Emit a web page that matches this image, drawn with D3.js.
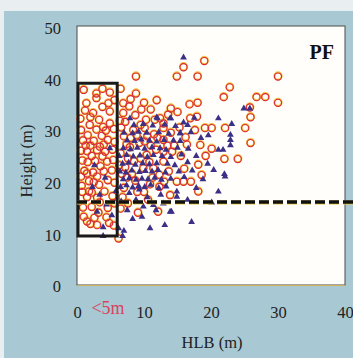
<!DOCTYPE html>
<html><head><meta charset="utf-8">
<script src="https://cdn.jsdelivr.net/npm/d3@7"></script>
<style>html,body{margin:0;padding:0;background:#fff;}svg{display:block}</style>
</head><body>
<script>
const xTicks = [0, 10, 20, 30, 40];
const yTicks = [0, 10, 20, 30, 40, 50];
const xLabel = "HLB (m)";
const yLabel = "Height (m)";
const panelLabel = "PF";
const boxNote = "<5m";
const boxRange = {x0: 0, x1: 6, y0: 9.5, y1: 39.1};
const threshold = 16.1;

const circles = [
 // inside box (HLB < 5 m)
 [2.9,37.1],[4.9,37.3],[2.9,36.2],[1.4,35.2],[4.7,35.2],[2.4,33.3],[4.9,33.6],[3.3,32.0],[1.9,31.0],[4.9,31.3],
 [0.6,30.0],[2.9,30.1],[4.3,29.9],[5.5,30.2],[1.6,29.0],[3.7,28.9],[0.9,28.0],[2.5,27.9],[4.6,28.1],[5.6,27.7],
 [2.0,27.0],[3.4,26.8],[0.6,26.0],[1.5,25.9],[3.0,26.1],[4.2,25.8],[5.3,26.2],[2.2,25.0],[3.8,24.9],[0.8,24.1],
 [1.6,23.8],[2.7,24.0],[4.5,23.9],[5.4,24.2],[3.5,23.0],[1.1,22.1],[2.4,21.8],[4.0,22.0],[5.2,22.2],[0.6,21.0],
 [1.5,21.6],[3.0,21.0],[1.8,20.1],[2.5,19.9],[4.6,20.3],[5.6,19.8],[3.3,19.4],[0.8,18.0],[1.8,18.1],[2.2,17.9],
 [4.1,18.1],[1.5,17.0],[3.0,16.9],[5.3,17.2],[3.4,16.0],[0.9,15.0],[2.2,15.1],[4.6,14.9],[3.2,14.0],[1.0,13.2],
 [1.5,12.3],[2.6,13.0],[4.4,13.1],[3.0,11.6],[4.8,12.0],[6.2,9.0],[1.2,33.8],[5.6,35.8],[3.8,34.5],[0.5,32.2],
 [1.0,37.8],[3.8,38.0],[0.7,19.2],[5.6,15.8],[2.0,11.8],[5.5,11.5],[3.9,30.6],[1.3,27.0],[4.0,27.2],[2.0,32.5],
 // outside the box
 [6.5,14.8],[12.1,14.2],[9.1,14.0],[13.9,17.4],[10.6,16.5],[18.1,18.1],
 [7.0,18.8],[8.7,20.2],[10.9,19.5],[12.3,21.3],[14.9,20.0],[15.9,20.0],[17.0,20.0],[18.6,21.3],[9.9,22.6],[11.4,22.6],
 [7.2,22.8],[8.5,24.0],[12.9,23.9],[18.1,23.3],[22.0,24.4],[24.0,24.4],[16.0,22.5],
 [6.5,25.5],[7.9,26.7],[10.4,25.2],[12.9,25.8],[9.3,27.5],[10.1,27.8],[12.9,28.1],[14.5,27.0],[18.4,27.1],[20.1,26.4],
 [16.2,28.6],[7.0,28.8],[11.5,29.2],[25.9,27.5],[19.2,25.0],
 [10.1,30.4],[12.9,30.4],[17.6,30.0],[19.1,30.4],[20.1,30.4],[22.1,30.4],[25.1,30.4],[7.2,31.6],[11.6,32.0],[12.9,31.3],
 [12.4,32.3],[8.7,32.9],[6.9,33.3],[16.9,32.3],[17.9,32.6],[25.9,32.5],[14.0,34.2],[6.9,35.2],[10.0,35.3],[18.0,35.3],
 [25.8,34.4],[15.0,33.5],[8.4,30.0],[9.6,34.0],[6.6,30.5],[8.0,28.5],[11.0,27.0],[14.0,29.5],[15.5,25.0],[13.7,22.0],
 [8.8,37.1],[8.8,40.4],[14.9,40.4],[15.9,42.2],[19.0,43.4],[18.0,40.4],[30.0,40.4],[22.8,38.3],[21.9,36.4],[26.8,36.4],
 [28.1,36.4],[30.0,35.3],[7.5,20.8],[6.3,23.2],[10.0,18.0],
 [6.8,17.0],[7.6,15.8],[8.2,21.5],[9.5,24.5],[10.8,23.8],[11.8,26.2],[7.4,27.3],[8.9,29.0],[10.3,32.0],[11.0,34.0],
 [12.0,28.5],[13.5,27.0],[6.4,31.8],[7.8,34.6],[9.5,31.0],[11.3,20.8],[13.0,20.0],[14.2,25.8],[15.3,30.5],[16.4,27.2],
 [7.6,24.5],[9.0,18.0],[12.3,19.0],[6.7,21.5],[10.5,28.8],[13.6,33.0],[8.0,36.0],[11.9,35.8],[16.8,35.0],[6.5,38.0]
];

const triangles = [
 [3.9,9.5],[6.8,9.5],[7.0,10.5],[6.2,11.0],[3.9,11.2],[9.7,13.2],[10.9,11.0],[13.1,11.6],[17.1,12.2],[14.1,14.2],
 [9.9,15.2],[11.4,15.5],[12.9,15.8],[20.1,16.0],[3.0,14.2],[5.2,13.5],[7.5,14.5],[8.3,12.8],[6.6,16.2],[8.8,16.5],
 [10.5,17.0],[7.8,17.8],[11.8,14.5],[12.5,17.5],[14.9,17.1],[14.9,18.1],[13.9,14.2],[21.1,18.1],[16.5,16.5],[9.3,18.5],
 [3.4,17.5],[5.8,18.2],[4.2,20.8],[2.6,23.2],[4.9,26.5],[4.4,15.6],[2.3,19.0],
 [6.5,19.0],[7.4,19.3],[8.3,18.9],[9.2,19.2],[10.1,19.0],[11.0,19.4],[12.2,18.8],[13.3,19.1],
 [6.9,20.5],[7.8,20.7],[8.8,20.4],[9.7,20.6],[10.6,20.5],[11.6,20.8],[12.6,20.4],[14.0,20.6],[16.0,20.9],
 [6.4,22.0],[7.3,21.8],[8.2,22.2],[9.3,21.9],[10.2,22.1],[11.2,22.0],[12.1,22.3],[13.2,21.8],[15.2,22.0],[17.2,22.2],
 [6.8,23.5],[7.7,23.7],[8.7,23.3],[9.8,23.6],[10.8,23.4],[11.9,23.6],[13.5,23.5],[14.6,23.2],[16.5,23.8],
 [6.3,25.0],[7.4,25.2],[8.4,24.9],[9.4,25.1],[10.5,24.8],[11.4,25.2],[12.7,25.0],[14.0,24.8],[15.6,25.3],[17.8,25.0],
 [6.9,26.5],[8.0,26.3],[9.0,26.6],[10.1,26.4],[11.2,26.7],[12.4,26.5],[13.3,26.2],[15.0,26.6],[16.6,26.4],
 [7.5,28.0],[8.6,27.9],[9.6,28.2],[10.8,28.0],[11.9,27.8],[13.0,28.1],[14.4,28.0],[15.4,27.9],
 [7.0,29.5],[8.3,29.4],[9.2,29.7],[10.4,29.5],[12.2,29.6],[13.7,29.3],[15.4,29.4],[17.0,29.6],
 [8.5,31.0],[9.9,31.2],[11.3,30.9],[13.1,31.1],[14.7,30.8],[16.5,31.0],
 [7.9,32.3],[11.9,32.5],[14.0,32.3],[17.5,32.4],[12.0,32.3],[13.9,32.3],[15.9,31.5],[15.4,29.4],
 [15.9,44.1],[24.9,34.2],[25.8,34.2],[21.1,32.3],[23.1,31.2],[22.9,29.1],[22.9,28.1],[22.9,27.1],[21.1,26.2],[21.8,26.2],
 [22.0,21.5],[22.1,21.0],[18.5,28.5],[19.5,23.5],[18.8,20.5],[17.8,18.8],[19.6,29.0],[20.4,22.3]
];

const W = 353, H = 358;
const svg = d3.select("body").append("svg").attr("width", W).attr("height", H);

// outer textured background
svg.append("rect").attr("width", W).attr("height", H).attr("fill", "#e9eff1");
svg.append("rect").attr("x", 4).attr("y", 11).attr("width", W - 4).attr("height", H - 11).attr("fill", "#a8c8d3");

const x = d3.scaleLinear().domain([0, 40]).range([77, 345]);
const y = d3.scaleLinear().domain([0, 50]).range([285, 27]);

// plot area
svg.append("rect").attr("x", x(0)).attr("y", y(50) - 1).attr("width", x(40) - x(0)).attr("height", y(0) - y(50) + 1)
  .attr("fill", "#fffefb").attr("stroke", "#4a4a4a").attr("stroke-width", 1);
svg.append("line").attr("x1", x(0)).attr("x2", x(40)).attr("y1", y(0) + 0.5).attr("y2", y(0) + 0.5)
  .attr("stroke", "#c9b25a").attr("stroke-width", 1.2);

const serif = "'Liberation Serif', 'DejaVu Serif', serif";

// axes (labels only)
const xAxis = d3.axisBottom(x).tickValues(xTicks).tickSize(0).tickPadding(0);
const gx = svg.append("g").attr("transform", `translate(0,${y(0) + 27})`).call(xAxis);
gx.select(".domain").remove();
gx.selectAll("text").attr("font-family", serif).attr("font-size", 16.5).attr("fill", "#222").attr("dy", "0.35em");

const yAxis = d3.axisLeft(y).tickValues(yTicks).tickSize(0).tickPadding(0);
const gy = svg.append("g").attr("transform", `translate(${x(0) - 16},0)`).call(yAxis);
gy.select(".domain").remove();
gy.selectAll("text").attr("font-family", serif).attr("font-size", 16.5).attr("fill", "#222").attr("dy", "0.4em");

// points: circles
const gc = svg.append("g");
gc.selectAll("circle.o").data(circles).join("circle").attr("class", "o")
  .attr("cx", d => x(d[0])).attr("cy", d => y(d[1]) - 0.6).attr("r", 3.6)
  .attr("fill", "none").attr("stroke", "#f6c040").attr("stroke-width", 2);
gc.selectAll("circle.i").data(circles).join("circle").attr("class", "i")
  .attr("cx", d => x(d[0])).attr("cy", d => y(d[1])).attr("r", 3.6)
  .attr("fill", "none").attr("stroke", "#d8283d").attr("stroke-width", 1.1);

// triangles
const tri = d3.symbol().type(d3.symbolTriangle).size(20);
svg.append("g").selectAll("path").data(triangles).join("path")
  .attr("d", tri).attr("transform", d => `translate(${x(d[0])},${y(d[1])})`)
  .attr("fill", "#3b2f86");

// box
svg.append("rect").attr("x", x(boxRange.x0) + 1).attr("y", y(boxRange.y1))
  .attr("width", x(boxRange.x1) - x(boxRange.x0) - 1).attr("height", y(boxRange.y0) - y(boxRange.y1))
  .attr("fill", "none").attr("stroke", "#1a1a1a").attr("stroke-width", 3);

// threshold dashed line
svg.append("line").attr("x1", x(0)).attr("x2", W).attr("y1", y(threshold) + 0.6).attr("y2", y(threshold) + 0.6)
  .attr("stroke", "#e8c53a").attr("stroke-width", 4).attr("stroke-dasharray", "10,4");
svg.append("line").attr("x1", x(0)).attr("x2", W).attr("y1", y(threshold)).attr("y2", y(threshold))
  .attr("stroke", "#111").attr("stroke-width", 3.5).attr("stroke-dasharray", "10,4");

// texts
svg.append("text").attr("x", 334).attr("y", 59).attr("text-anchor", "end")
  .attr("font-family", serif).attr("font-weight", "bold").attr("font-size", 20).attr("fill", "#111").text(panelLabel);
svg.append("text").attr("x", 108).attr("y", 314).attr("text-anchor", "middle")
  .attr("font-family", serif).attr("font-size", 18).attr("fill", "#d8445e").text(boxNote);
svg.append("text").attr("x", 212).attr("y", 348).attr("text-anchor", "middle")
  .attr("font-family", serif).attr("font-size", 16.5).attr("fill", "#222").text(xLabel);
svg.append("text").attr("transform", "translate(32,161) rotate(-90)").attr("text-anchor", "middle")
  .attr("font-family", serif).attr("font-size", 16.5).attr("fill", "#222").text(yLabel);
</script>
</body></html>
